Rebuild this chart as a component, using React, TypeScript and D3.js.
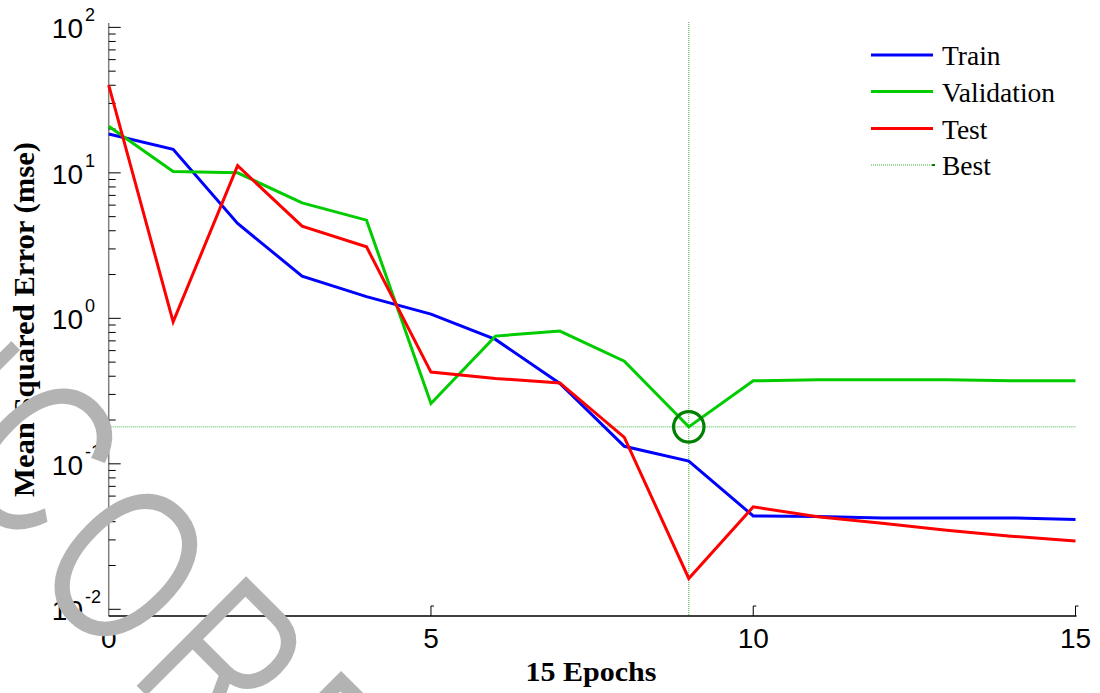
import React from "react";
import * as d3 from "d3";

const epochs = [0, 1, 2, 3, 4, 5, 6, 7, 8, 9, 10, 11, 12, 13, 14, 15];
const train = [18.5, 14.5, 4.49, 1.95, 1.41, 1.07, 0.716, 0.357, 0.132, 0.1045, 0.0438, 0.0435, 0.0425, 0.0425, 0.0425, 0.0415];
const validation = [20.9, 10.2, 10.0, 6.22, 4.73, 0.26, 0.755, 0.817, 0.508, 0.1795, 0.372, 0.378, 0.378, 0.378, 0.372, 0.372];
const test = [40.1, 0.946, 11.2, 4.3, 3.1, 0.427, 0.386, 0.36, 0.152, 0.0163, 0.0506, 0.0432, 0.039, 0.035, 0.0318, 0.0295];
const bestEpoch = 9;
const bestValue = 0.1795;
const xTicks = [0, 5, 10, 15];
const yMajorExps = [-2, -1, 0, 1, 2];
const legendLabels = ["Train", "Validation", "Test", "Best"];
const xTitle = "15 Epochs";
const yTitle = "Mean Squared Error  (mse)";
const watermarkParts = ["UN", "C", "ORRECTED PROOF"];

const W = 1100;
const H = 693;
const x = d3.scaleLinear().domain([0, 15]).range([108.7, 1075.5]);
const y = d3.scaleLog().domain([Math.pow(10, -2.046), Math.pow(10, 2.03)]).range([616, 23]);

const series = [
  { name: "Train", values: train, color: "#0000ff" },
  { name: "Validation", values: validation, color: "#00cc00" },
  { name: "Test", values: test, color: "#ff0000" },
];

const line = d3
  .line<number>()
  .x((_, i) => x(epochs[i]))
  .y((v) => y(v));

const minorTicks: number[] = [];
for (let e = -2; e <= 1; e++) {
  for (let k = 2; k <= 9; k++) minorTicks.push(k * Math.pow(10, e));
}

function WatermarkText(props: any) {
  return (
    <text
      transform="translate(-259.9,290.5) rotate(45) scale(0.73,1)"
      fontFamily="'Liberation Sans', Arial, sans-serif"
      fontSize={228}
      letterSpacing={19}
      {...props}
    >
      {watermarkParts[0]}
      <tspan dy={-15}>{watermarkParts[1]}</tspan>
      <tspan dy={15}>{watermarkParts[2]}</tspan>
    </text>
  );
}

export default function App() {
  const x0 = x(0);
  const x1 = x(15);
  const yBottom = 616;
  const yTop = 23;
  const sans = "'Liberation Sans', Arial, sans-serif";
  const serif = "'Liberation Serif', 'Times New Roman', serif";
  const legendX0 = 871;
  const legendX1 = 933;
  const legendY = [55, 91.5, 128.5, 165];
  return (
    <svg
      width={W}
      height={H}
      style={{ position: "absolute", left: 0, top: 0, display: "block", background: "#fff" }}
    >
      <defs>
        <mask id="wmMask" maskUnits="userSpaceOnUse" x={-200} y={-200} width={1500} height={1100}>
          <WatermarkText fill="#fff" stroke="#000" strokeWidth={2} />
        </mask>
      </defs>
      <rect x={0} y={0} width={W} height={H} fill="#fff" />
      {/* best lines */}
      <line x1={x0} x2={x1} y1={y(bestValue)} y2={y(bestValue)} stroke="#3cb43c" strokeWidth={1} strokeDasharray="1,1" />
      <line x1={x(bestEpoch)} x2={x(bestEpoch)} y1={yTop - 1} y2={yBottom} stroke="#3cb43c" strokeWidth={1} strokeDasharray="1,1" />
      {/* axes */}
      <line x1={x0} x2={x0} y1={yTop} y2={yBottom} stroke="#808080" strokeWidth={1.5} />
      <line x1={x0} x2={x1 + 1} y1={yBottom} y2={yBottom} stroke="#000" strokeWidth={1.3} />
      {minorTicks.map((v, i) => (
        <line key={"mt" + i} x1={x0} x2={x0 + 7} y1={y(v)} y2={y(v)} stroke="#000" strokeWidth={1} />
      ))}
      {yMajorExps.map((e) => (
        <line key={"Mt" + e} x1={x0} x2={x0 + 12} y1={y(Math.pow(10, e))} y2={y(Math.pow(10, e))} stroke="#000" strokeWidth={1} />
      ))}
      {xTicks.slice(1).map((t) => (
        <path key={"xt" + t} d={`M${x(t)},${yBottom} V${yBottom - 10} h3`} fill="none" stroke="#000" strokeWidth={1} />
      ))}
      {/* y tick labels */}
      {yMajorExps.map((e) => {
        const ty = y(Math.pow(10, e));
        return (
          <g key={"yl" + e} fontFamily={sans} fill="#000">
            <text x={83} y={ty + 11} fontSize={28} textAnchor="end">10</text>
            <text x={85} y={ty - 6} fontSize={18}>{String(e)}</text>
          </g>
        );
      })}
      {/* x tick labels */}
      {xTicks.map((t) => (
        <text key={"xl" + t} x={x(t)} y={648} fontSize={28} fontFamily={sans} textAnchor="middle" fill="#000">
          {t}
        </text>
      ))}
      {/* titles */}
      <text x={591} y={681} fontFamily={serif} fontWeight="bold" fontSize={28} textAnchor="middle" textLength={131} lengthAdjust="spacingAndGlyphs">
        {xTitle}
      </text>
      <text
        transform={`translate(33.5,319.5) rotate(-90)`}
        fontFamily={serif}
        fontWeight="bold"
        fontSize={29}
        textAnchor="middle"
        textLength={355}
        lengthAdjust="spacingAndGlyphs"
      >
        {yTitle}
      </text>
      {/* series */}
      {series.map((s) => (
        <path key={s.name} d={line(s.values) || ""} fill="none" stroke={s.color} strokeWidth={3} strokeLinejoin="miter" />
      ))}
      {/* best circle */}
      <circle cx={x(bestEpoch)} cy={y(bestValue)} r={15.2} fill="none" stroke="#008000" strokeWidth={3.2} />
      {/* legend */}
      {series.map((s, i) => (
        <line key={"lg" + i} x1={legendX0} x2={legendX1} y1={legendY[i]} y2={legendY[i]} stroke={s.color} strokeWidth={3} />
      ))}
      <line x1={legendX0} x2={legendX1} y1={legendY[3]} y2={legendY[3]} stroke="#3cb43c" strokeWidth={1} strokeDasharray="1,1" />
      <rect x={legendX1 - 1} y={legendY[3] - 1} width={3} height={2} fill="#008000" />
      {legendLabels.map((l, i) => (
        <text key={"lt" + i} x={942} y={legendY[i] + 10} fontFamily={serif} fontSize={27.5} fill="#000">
          {l}
        </text>
      ))}
      {/* watermark */}
      <g mask="url(#wmMask)">
        <WatermarkText fill="#b3b3b3" />
      </g>
    </svg>
  );
}
